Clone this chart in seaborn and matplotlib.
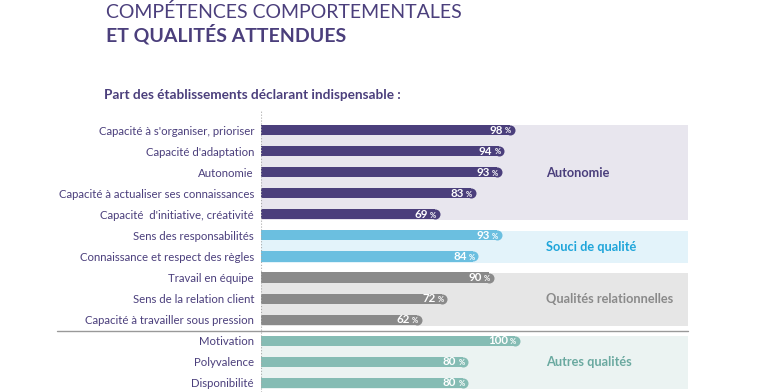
import pandas as pd
import matplotlib.pyplot as plt
import seaborn as sns

# ==========================================
# Données
# ==========================================
labels = [
    "Capacité à s'organiser, prioriser",
    "Capacité d'adaptation",
    "Autonomie",
    "Capacité à actualiser ses connaissances",
    "Capacité  d'initiative, créativité",
    "Sens des responsabilités",
    "Connaissance et respect des règles",
    "Travail en équipe",
    "Sens de la relation client",
    "Capacité à travailler sous pression",
    "Motivation",
    "Polyvalence",
    "Disponibilité",
]
values = [98, 94, 93, 83, 69, 93, 84, 90, 72, 62, 100, 80, 80]
groups = ["Autonomie"] * 5 + ["Souci de qualité"] * 2 + ["Qualités relationnelles"] * 3 + ["Autres qualités"] * 3
group_names = ["Autonomie", "Souci de qualité", "Qualités relationnelles", "Autres qualités"]

bar_colors = {"Autonomie": "#4b3f7c", "Souci de qualité": "#6bbfe0",
              "Qualités relationnelles": "#8a8a8a", "Autres qualités": "#85bcb4"}
bg_colors = {"Autonomie": "#e8e6ee", "Souci de qualité": "#e3f3fa",
             "Qualités relationnelles": "#e6e6e6", "Autres qualités": "#ebf3f2"}
txt_colors = {"Autonomie": "#4b3f7c", "Souci de qualité": "#1ea5da",
              "Qualités relationnelles": "#8a8a8a", "Autres qualités": "#6aa9a0"}

PURPLE = "#4b3f7c"

df = pd.DataFrame({"label": labels, "value": values, "group": groups})

# ==========================================
# Figure
# ==========================================
sns.set_style("white")
plt.rcParams['font.family'] = ['Lato', 'DejaVu Sans']

fig = plt.figure(figsize=(7.7, 3.92), dpi=100)
ax = fig.add_axes([261 / 770, 0, 427 / 770, 282 / 392])

# fonds colorés par groupe
for g in group_names:
    idx = [i for i, gg in enumerate(groups) if gg == g]
    ax.axhspan(min(idx) - 0.23, max(idx) + 0.29, color=bg_colors[g], lw=0, zorder=0)

sns.barplot(data=df, y="label", x="value", hue="group", palette=bar_colors,
            dodge=False, width=0.48, orient="h", legend=False, ax=ax, zorder=2,
            saturation=1, linewidth=0)

ax.set_xlim(0, 165)
ax.set_ylim(12.43, -0.95)
ax.set_xlabel("")
ax.set_ylabel("")
ax.set_xticks([])
for s in ax.spines.values():
    s.set_visible(False)
ax.tick_params(axis="y", length=0, pad=5, labelsize=8.2, labelcolor=PURPLE)

# bouts arrondis des barres
r = 1.9
for p in list(ax.patches):
    if p.get_width() <= 0 or p.get_height() > 1:
        continue
    w = p.get_width()
    yc = p.get_y() + p.get_height() / 2
    p.set_width(w - r)
    ax.scatter([w - r], [yc], s=52, color=p.get_facecolor(), lw=0, zorder=2)

ax.axvline(0, color="#aaaaaa", lw=0.8, ls=":", zorder=3)
ax.axhline(9.53, xmin=-0.478, xmax=1, color="#999999", lw=1, clip_on=False, zorder=3)

# étiquettes de valeur
for i, v in enumerate(values):
    ax.annotate(str(v), (v, i), xytext=(-8.5, 0), textcoords="offset points",
                ha="right", va="center", color="white", fontsize=8.3, fontweight="bold", zorder=4)
    ax.annotate("%", (v, i), xytext=(-2.5, -0.6), textcoords="offset points",
                ha="right", va="center", color="white", fontsize=5.5, fontweight="bold", zorder=4)

# noms des groupes
for g in group_names:
    idx = [i for i, gg in enumerate(groups) if gg == g]
    yc = (min(idx) - 0.23 + max(idx) + 0.29) / 2
    ax.text(110, yc, g, ha="left", va="center", color=txt_colors[g],
            fontsize=9.2, fontweight="bold")

# titres
fig.text(106 / 770, 1 - 12 / 392, "COMPÉTENCES COMPORTEMENTALES", ha="left", va="center",
         color=PURPLE, fontsize=14, fontweight="normal")
fig.text(106 / 770, 1 - 34 / 392, "ET QUALITÉS ATTENDUES", ha="left", va="center",
         color=PURPLE, fontsize=14, fontweight="bold")
fig.text(104 / 770, 1 - 95 / 392, "Part des établissements déclarant indispensable :",
         ha="left", va="center", color=PURPLE, fontsize=9.8, fontweight="bold")

fig.savefig("out.png", dpi=100)
